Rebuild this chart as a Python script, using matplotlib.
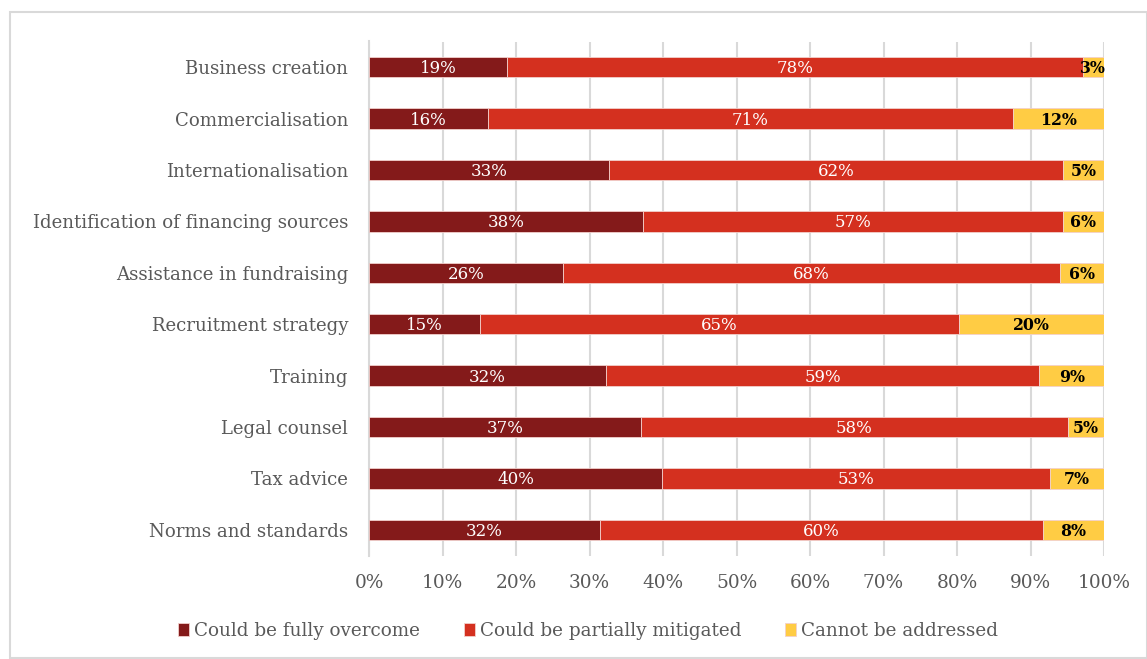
import matplotlib
matplotlib.use("Agg")
import matplotlib.pyplot as plt
from matplotlib.patches import Rectangle

categories = ["Business creation", "Commercialisation", "Internationalisation",
              "Identification of financing sources", "Assistance in fundraising",
              "Recruitment strategy", "Training", "Legal counsel", "Tax advice",
              "Norms and standards"]
fully = [18.8, 16.2, 32.7, 37.3, 26.4, 15.1, 32.2, 37.0, 39.9, 31.4]
partial = [78.3, 71.4, 61.7, 57.1, 67.6, 65.2, 59.0, 58.1, 52.8, 60.3]
cannot = [2.9, 12.4, 5.6, 5.6, 6.0, 19.7, 8.8, 4.9, 7.3, 8.3]
fully_lbl = ["19%", "16%", "33%", "38%", "26%", "15%", "32%", "37%", "40%", "32%"]
partial_lbl = ["78%", "71%", "62%", "57%", "68%", "65%", "59%", "58%", "53%", "60%"]
cannot_lbl = ["3%", "12%", "5%", "6%", "6%", "20%", "9%", "5%", "7%", "8%"]
series_names = ["Could be fully overcome", "Could be partially mitigated", "Cannot be addressed"]
colors = ["#841A1A", "#D4301F", "#FFCC44"]
xticks = [0, 10, 20, 30, 40, 50, 60, 70, 80, 90, 100]

plt.rcParams['font.family'] = ['DejaVu Serif']
fig = plt.figure(figsize=(11.47, 6.59), dpi=100)
fig.patches.append(Rectangle((10/1147, 1-658/659), 1137/1147, 646/659, transform=fig.transFigure,
                             fill=False, edgecolor="#D9D9D9", linewidth=1.5))
ax = fig.add_axes([369/1147, 1-555.5/659, 735/1147, 514/659])
ypos = list(range(len(categories)))
left = [0]*len(categories)
data = [fully, partial, cannot]
labels = [fully_lbl, partial_lbl, cannot_lbl]
txtcol = ["white", "white", "black"]
weights = ["normal", "normal", "bold"]
sizes = [12, 12, 11.3]
for i, (vals, lbls) in enumerate(zip(data, labels)):
    ax.barh(ypos, vals, left=left, height=0.4, color=colors[i], edgecolor="#F2D0CC",
            linewidth=0.6, label=series_names[i], zorder=3)
    for y, v, l, lb in zip(ypos, vals, left, lbls):
        ax.text(l + v/2, y + 0.03, lb, ha="center", va="center", color=txtcol[i],
                fontsize=sizes[i], fontweight=weights[i], zorder=4)
    left = [a + b for a, b in zip(left, vals)]

ax.set_ylim(len(categories) - 0.5, -0.5)
ax.set_xlim(0, 100)
ax.set_yticks(ypos)
ax.set_yticklabels(categories, fontsize=13.1, color="#595959")
ax.set_xticks(xticks)
ax.set_xticklabels([f"{t}%" for t in xticks], fontsize=13.3, color="#595959")
ax.tick_params(length=0, pad=13)
ax.tick_params(axis="y", pad=15)
ax.grid(axis="x", color="#D9D9D9", linewidth=1.5, zorder=0)
for s in ["top", "right", "bottom"]:
    ax.spines[s].set_visible(False)
ax.spines["left"].set_color("#D9D9D9")
ax.spines["left"].set_linewidth(1.5)
ax.legend(loc="center", bbox_to_anchor=(588/1147, 1-631/659), bbox_transform=fig.transFigure,
          ncol=3, frameon=False, fontsize=13.2, handlelength=0.6, handleheight=0.7,
          handletextpad=0.25, columnspacing=2.4, labelcolor="#595959")
fig.savefig("out.png", dpi=100)
